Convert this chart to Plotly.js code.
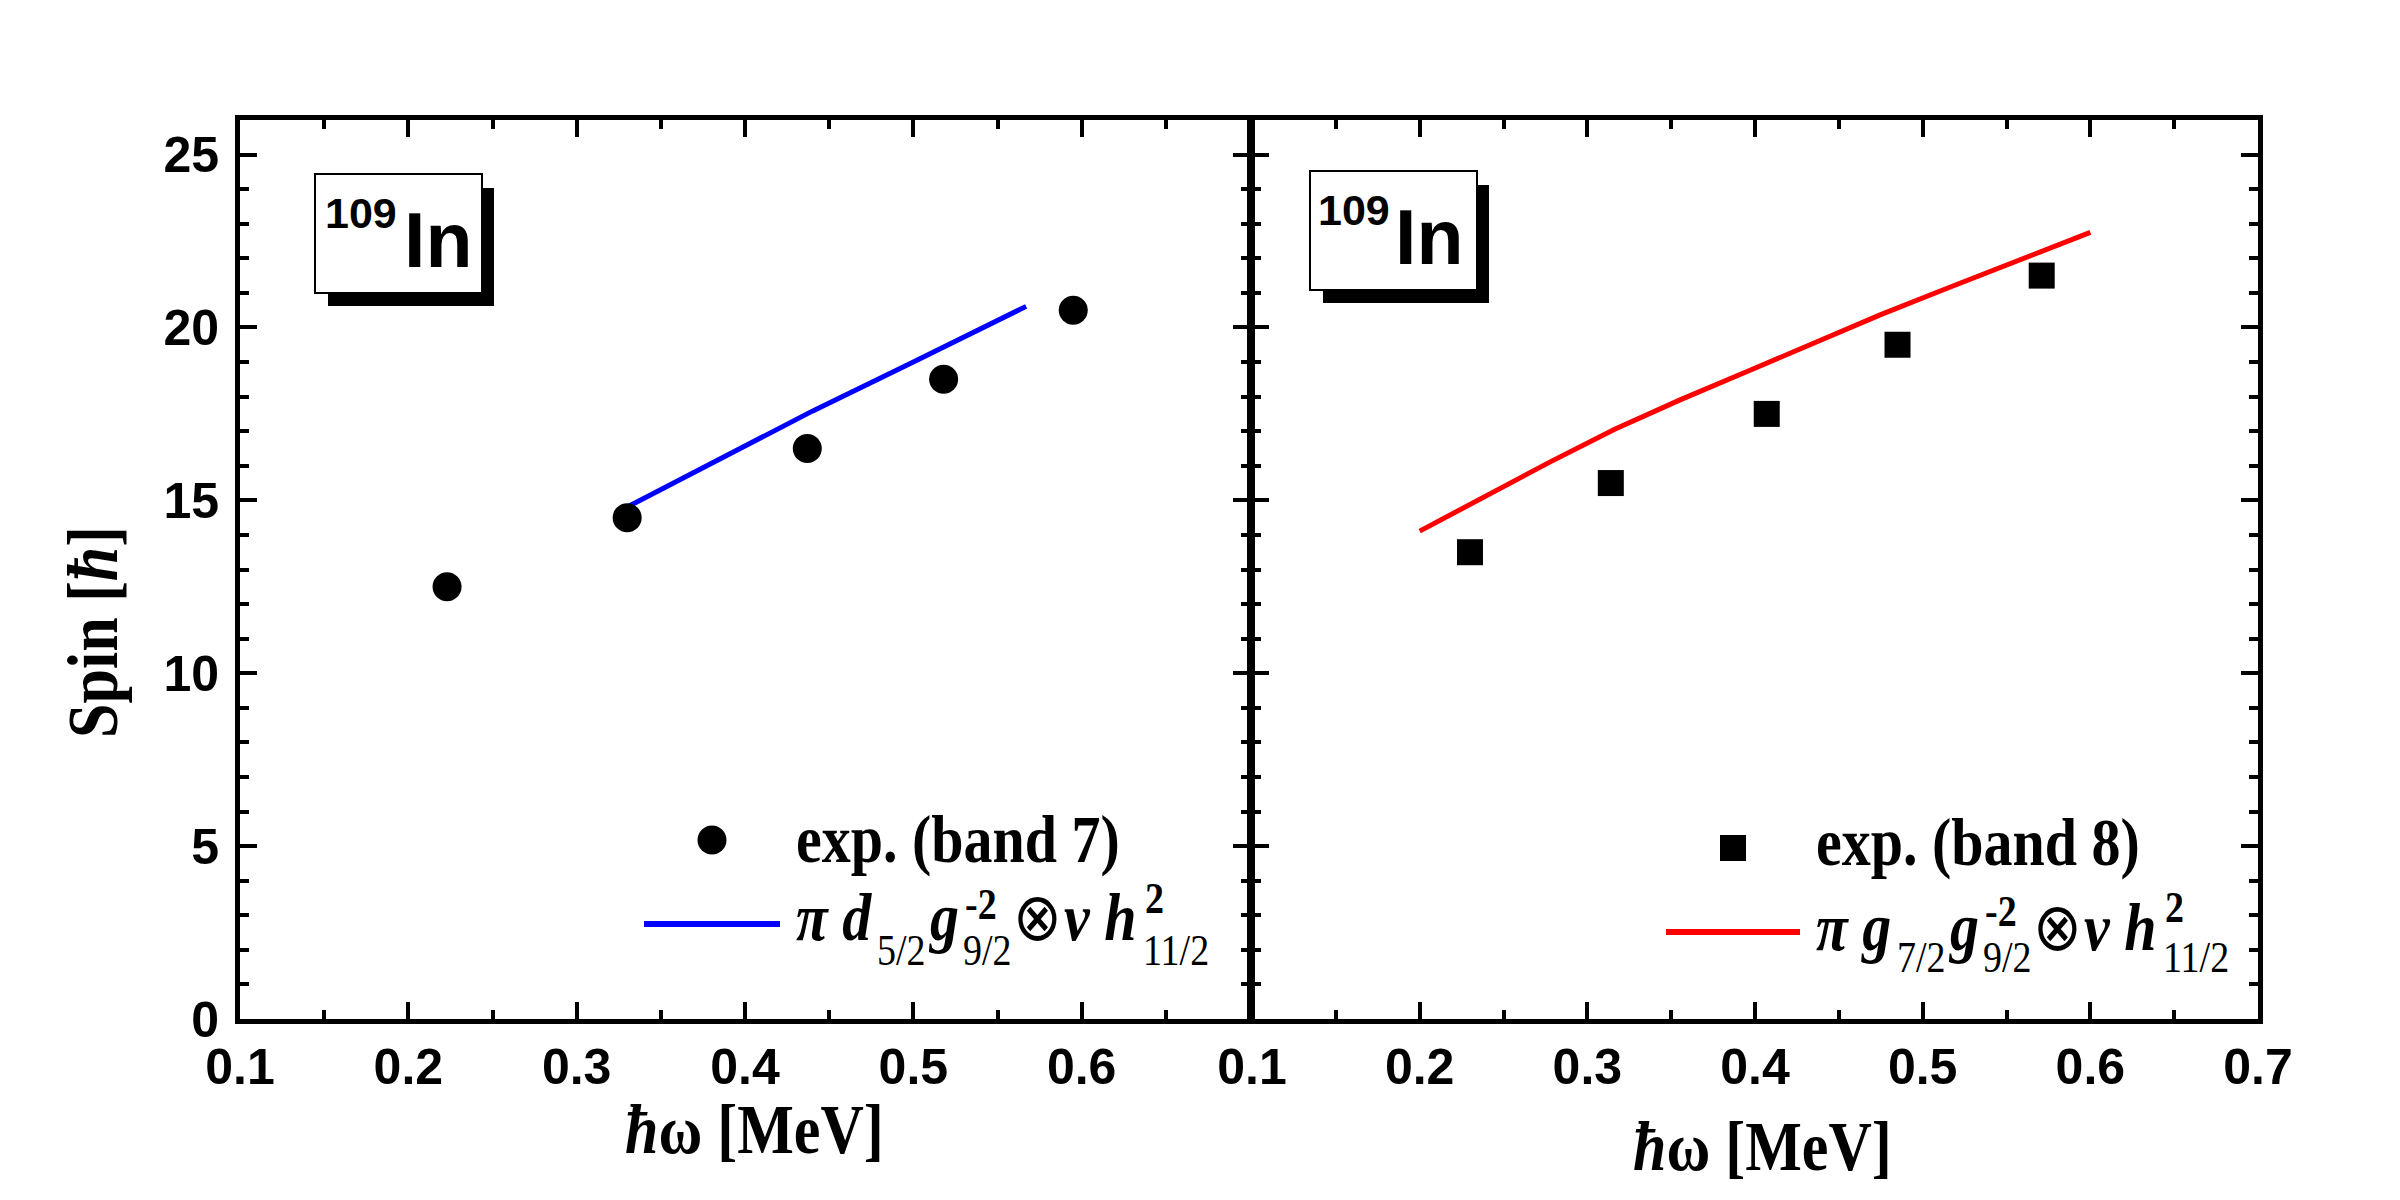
<!DOCTYPE html>
<html>
<head>
<meta charset="utf-8">
<script src="https://cdn.plot.ly/plotly-3.0.1.min.js"></script>
<style>
  html, body { margin: 0; padding: 0; background: #fff; }
  #chart { width: 2400px; height: 1200px; }
</style>
</head>
<body>
<div id="chart"></div>
<script>
// Band 7: experimental spins and the pi d5/2 g9/2^-2 x nu h11/2^2 calculation
const band7Omega = [0.223, 0.330, 0.437, 0.518, 0.595];
const band7Spin  = [12.5, 14.5, 16.5, 18.5, 20.5];
const calc7Omega = [0.323, 0.380, 0.440, 0.500, 0.567];
const calc7Spin  = [14.63, 16.07, 17.58, 19.00, 20.61];

// Band 8: experimental spins and the pi g7/2 g9/2^-2 x nu h11/2^2 calculation
const band8Omega = [0.230, 0.314, 0.407, 0.485, 0.571];
const band8Spin  = [13.5, 15.5, 17.5, 19.5, 21.5];
const calc8Omega = [0.200, 0.237, 0.277, 0.316, 0.356, 0.396, 0.435, 0.475, 0.515, 0.546, 0.600];
const calc8Spin  = [14.11, 15.08, 16.09, 17.05, 17.92, 18.74, 19.55, 20.37, 21.14, 21.72, 22.75];

// Axis ticks
const xTickLeft   = [0.1, 0.2, 0.3, 0.4, 0.5, 0.6];
const xLabelLeft  = ['0.1', '0.2', '0.3', '0.4', '0.5', '0.6'];
const xTickRight  = [0.1, 0.2, 0.3, 0.4, 0.5, 0.6, 0.7];
const xLabelRight = ['0.1', '0.2', '0.3', '0.4', '0.5', '0.6', '0.7'];
const yTicks      = [0, 5, 10, 15, 20, 25];
const yLabels     = ['0', '5', '10', '15', '20', '25'];

// Legend texts: configuration pieces with sub/superscripts
const formula7 = [
  { main: 'π d' }, { sub: '5/2' }, { main: 'g' }, { sup: '-2', sub: '9/2', supShift: -21 },
  { sym: '⊗' }, { main: 'ν h' }, { sup: '2', sub: '11/2', supShift: -27 }
];
const formula8 = [
  { main: 'π g' }, { sub: '7/2' }, { main: 'g' }, { sup: '-2', sub: '9/2', supShift: -24 },
  { sym: '⊗' }, { main: 'ν h' }, { sup: '2', sub: '11/2', supShift: -28 }
];
const label7 = 'exp. (band 7)';
const label8 = 'exp. (band 8)';
const nucleusMass = '109';
const nucleusName = 'In';

// Page geometry (pixels)
const W = 2400, H = 1200;
const PL = 240, PR = 2258, PT = 120, PB = 1019;
const PW = PR - PL, PH = PB - PT;
const SPLIT_L = 1250, SPLIT_R = 1252;

const px = x => (x - PL) / PW;
const py = y => (PB - y) / PH;

const SANS = 'Liberation Sans, Arial, sans-serif';
const SERIF = 'Liberation Serif, Times New Roman, serif';
const SERIF_STRETCH = 1.15;   // taller serif lettering

// text placed by its left edge and baseline (in page pixels)
function txt(text, xLeft, baseline, size, family, weight, style) {
  const k = family === SANS ? 0.3465 : 0.3375;
  return {
    xref: 'paper', yref: 'paper',
    x: px(xLeft), y: py(baseline - k * size),
    xanchor: 'left', yanchor: 'middle',
    text: text, showarrow: false, borderpad: 0,
    font: { family: family, size: size, color: '#000', weight: weight || 'normal', style: style || 'normal' }
  };
}

// width measurement for laying out the formula pieces
const ctx = document.createElement('canvas').getContext('2d');
function measure(text, size, weight, style) {
  ctx.font = `${style || 'normal'} ${weight || 'normal'} ${size}px 'Liberation Serif'`;
  return ctx.measureText(text).width;
}

const MAIN = 58, SCRIPT = 38;
function formula(pieces, x0, base, subShift) {
  const out = [];
  let x = x0;
  pieces.forEach(p => {
    if (p.main) {
      out.push(txt(p.main, x, base, MAIN, SERIF, 'bold', 'italic'));
      x += measure(p.main, MAIN, 'bold', 'italic') + 6;
    } else if (p.sym) {
      out.push(txt(p.sym, x, base, MAIN, SERIF, 'normal'));
      x += measure(p.sym, MAIN, 'normal') + 2;
    } else {
      let w = 0;
      if (p.sup) {
        out.push(txt(p.sup, x + 2, base + p.supShift, SCRIPT, SERIF, 'bold'));
        w = Math.max(w, measure(p.sup, SCRIPT, 'bold') + 2);
      }
      if (p.sub) {
        out.push(txt(p.sub, x, base + subShift, SCRIPT, SERIF, 'normal'));
        w = Math.max(w, measure(p.sub, SCRIPT, 'normal'));
      }
      x += w + 2;
    }
  });
  return out;
}

const axisCommon = {
  ticks: 'inside', ticklen: 17, tickwidth: 4, tickcolor: '#000',
  showline: true, linewidth: 5, linecolor: '#000', mirror: 'ticks',
  showgrid: false, zeroline: false,
  tickfont: { family: SANS, size: 50, color: '#000', weight: 'bold' }
};

const xMinor = { ticks: 'inside', ticklen: 9, tickwidth: 4, tickcolor: '#000', dtick: 0.05, tick0: 0.1, showgrid: false };
const yMinor = { ticks: 'inside', ticklen: 9, tickwidth: 4, tickcolor: '#000', dtick: 1, tick0: 0, showgrid: false };

const traces = [
  { x: calc7Omega, y: calc7Spin, xaxis: 'x', yaxis: 'y', mode: 'lines',
    line: { color: '#0000FF', width: 5 }, showlegend: false },
  { x: band7Omega, y: band7Spin, xaxis: 'x', yaxis: 'y', mode: 'markers',
    marker: { symbol: 'circle', size: 29, color: '#000' }, showlegend: false },
  { x: calc8Omega, y: calc8Spin, xaxis: 'x2', yaxis: 'y2', mode: 'lines',
    line: { color: '#FF0000', width: 5 }, showlegend: false },
  { x: band8Omega, y: band8Spin, xaxis: 'x2', yaxis: 'y2', mode: 'markers',
    marker: { symbol: 'square', size: 26, color: '#000' }, showlegend: false }
];

// Framed nucleus label with a drop shadow
function nucleusBox(x0, y0) {
  return [
    { type: 'rect', xref: 'paper', yref: 'paper', layer: 'above',
      x0: px(x0 + 13), x1: px(x0 + 179), y0: py(y0 + 14), y1: py(y0 + 132),
      fillcolor: '#000', line: { width: 0 } },
    { type: 'rect', xref: 'paper', yref: 'paper', layer: 'above',
      x0: px(x0), x1: px(x0 + 167), y0: py(y0), y1: py(y0 + 119),
      fillcolor: '#fff', line: { color: '#000', width: 2 } }
  ];
}

const shapes = [
  ...nucleusBox(315, 174),
  ...nucleusBox(1310, 171),
  // legend line samples
  { type: 'line', xref: 'paper', yref: 'paper', x0: px(644), x1: px(780), y0: py(924), y1: py(924),
    line: { color: '#0000FF', width: 6 } },
  { type: 'line', xref: 'paper', yref: 'paper', x0: px(1666), x1: px(1800), y0: py(932), y1: py(932),
    line: { color: '#FF0000', width: 6 } },
  // legend marker samples
  { type: 'circle', xref: 'paper', yref: 'paper', xsizemode: 'pixel', ysizemode: 'pixel',
    xanchor: px(712), yanchor: py(840), x0: -14.5, x1: 14.5, y0: -14.5, y1: 14.5,
    fillcolor: '#000', line: { width: 0 } },
  { type: 'rect', xref: 'paper', yref: 'paper', xsizemode: 'pixel', ysizemode: 'pixel',
    xanchor: px(1733), yanchor: py(848), x0: -13, x1: 13, y0: -13, y1: 13,
    fillcolor: '#000', line: { width: 0 } }
];

const annotations = [
  // nucleus labels
  txt(nucleusMass, 324, 228, 43, SANS, 'bold'),
  txt(nucleusName, 403, 267, 77, SANS, 'bold'),
  txt(nucleusMass, 1317, 225, 43, SANS, 'bold'),
  txt(nucleusName, 1394, 264, 77, SANS, 'bold'),

  // legends
  txt(label7, 795, 862, MAIN, SERIF, 'bold'),
  ...formula(formula7, 795, 940, 25),
  txt(label8, 1815, 865, MAIN, SERIF, 'bold'),
  ...formula(formula8, 1815, 950, 22),

  // axis titles
  { xref: 'paper', yref: 'paper', x: px(96), y: py(632), xanchor: 'center', yanchor: 'middle',
    textangle: -90, showarrow: false, text: 'Spin [<i>ħ</i>]',
    font: { family: SERIF, size: 62, color: '#000', weight: 'bold' } },
  { xref: 'paper', yref: 'paper', x: px(754), y: py(1133), xanchor: 'center', yanchor: 'middle',
    showarrow: false, text: '<i>ħ</i>ω [MeV]',
    font: { family: SERIF, size: 60, color: '#000', weight: 'bold' } },
  { xref: 'paper', yref: 'paper', x: px(1762), y: py(1150), xanchor: 'center', yanchor: 'middle',
    showarrow: false, text: '<i>ħ</i>ω [MeV]',
    font: { family: SERIF, size: 60, color: '#000', weight: 'bold' } }
];

const layout = {
  width: W, height: H,
  margin: { l: PL, r: W - PR, t: PT, b: H - PB, pad: 0 },
  paper_bgcolor: '#fff', plot_bgcolor: '#fff',
  showlegend: false,
  xaxis: Object.assign({}, axisCommon, {
    domain: [0, (SPLIT_L - PL) / PW], range: [0.1, 0.7], anchor: 'y',
    tickmode: 'array', tickvals: xTickLeft, ticktext: xLabelLeft, minor: xMinor
  }),
  yaxis: Object.assign({}, axisCommon, {
    domain: [0, 1], range: [0, 26], anchor: 'x',
    tickmode: 'array', tickvals: yTicks, ticktext: yLabels, minor: yMinor,
    ticklabelstandoff: 6
  }),
  xaxis2: Object.assign({}, axisCommon, {
    domain: [(SPLIT_R - PL) / PW, 1], range: [0.1, 0.7], anchor: 'y2',
    tickmode: 'array', tickvals: xTickRight, ticktext: xLabelRight, minor: xMinor
  }),
  yaxis2: Object.assign({}, axisCommon, {
    domain: [0, 1], range: [0, 26], anchor: 'x2',
    tickmode: 'array', tickvals: yTicks, ticktext: yLabels, minor: yMinor,
    showticklabels: false
  }),
  shapes: shapes,
  annotations: annotations
};

Plotly.newPlot('chart', traces, layout, { displayModeBar: false, staticPlot: true }).then(() => {
  // serif lettering is drawn slightly taller than wide, stretched about its baseline
  document.querySelectorAll('#chart svg text').forEach(el => {
    const ff = el.style.fontFamily || el.getAttribute('font-family') || '';
    if (!ff.includes('Liberation Serif')) return;
    const y = parseFloat(el.getAttribute('y')) || 0;
    const tr = el.getAttribute('transform') || '';
    el.setAttribute('transform',
      `${tr} translate(0,${y}) scale(1,${SERIF_STRETCH}) translate(0,${-y})`);
  });
});
</script>
</body>
</html>
